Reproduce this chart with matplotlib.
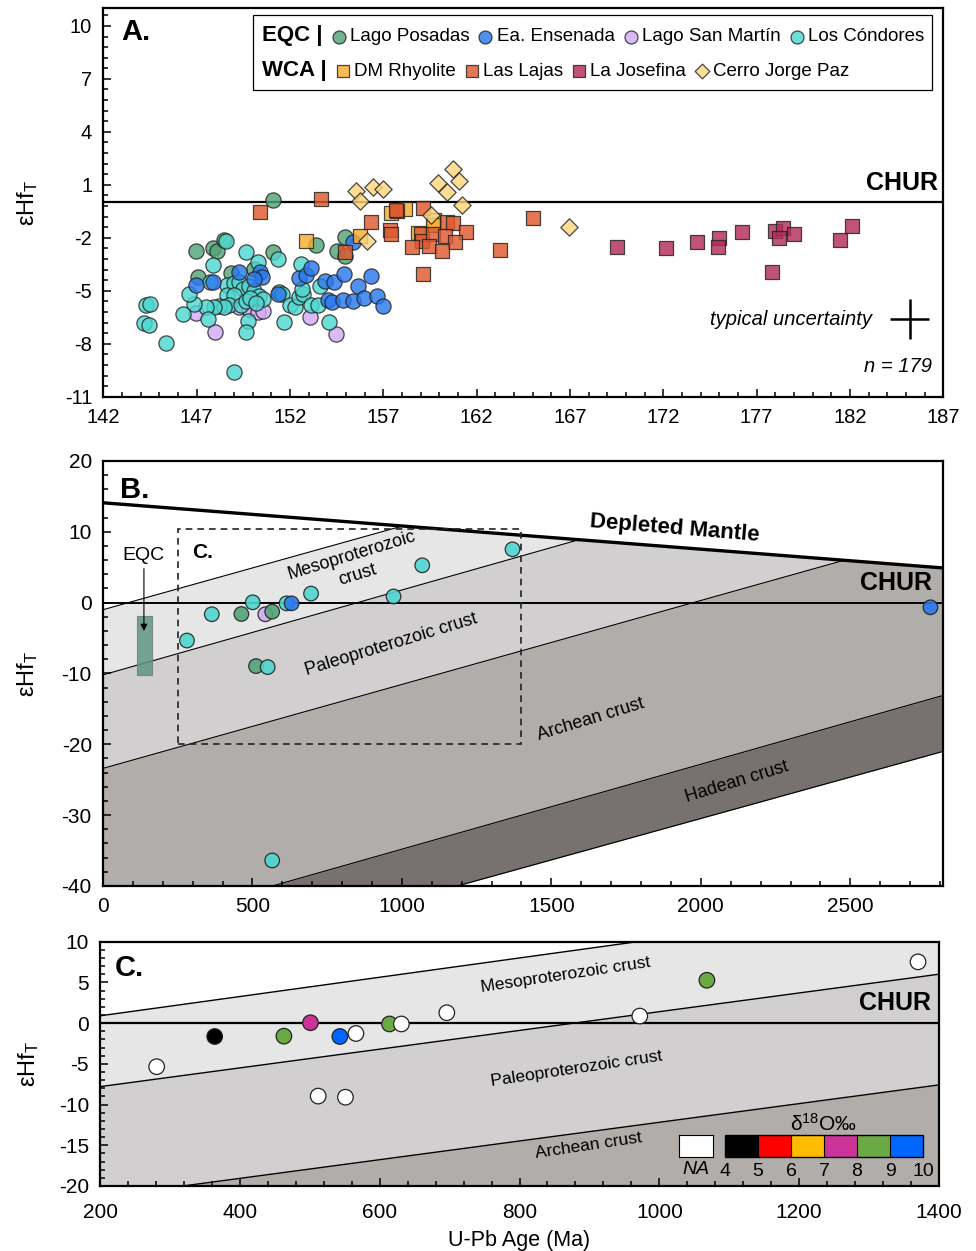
import numpy as np
import matplotlib
matplotlib.use('Agg')
import matplotlib.pyplot as plt
from matplotlib.legend import Legend
from matplotlib.lines import Line2D
from matplotlib.patches import Rectangle
from matplotlib.colors import ListedColormap, BoundaryNorm
from matplotlib.cm import ScalarMappable
from matplotlib.ticker import FixedLocator, MultipleLocator, AutoMinorLocator

plt.rcParams['font.family'] = ['Liberation Sans', 'DejaVu Sans']
plt.rcParams['axes.unicode_minus'] = False
plt.rcParams['mathtext.fontset'] = 'custom'
plt.rcParams['mathtext.rm'] = 'Liberation Sans'
plt.rcParams['mathtext.it'] = 'Liberation Sans:italic'
plt.rcParams['mathtext.bf'] = 'Liberation Sans:bold'

# ---------------- panel A : Jurassic zircons ----------------
lp_age = [151.07, 146.97, 147.86, 148.10, 148.49, 151.08, 150.10, 148.85, 147.10,
          153.38, 154.93, 154.52, 154.96]
lp_ehf = [0.13, -2.77, -2.60, -2.77, -2.11, -2.83, -3.77, -4.02, -4.24,
          -2.40, -1.98, -2.73, -3.02]

ee_age = [146.97, 147.86, 149.26, 150.37, 150.51, 150.05, 151.35, 152.48, 152.87,
          153.14, 153.86, 154.36, 154.88, 156.36, 155.65, 154.05, 154.25, 154.84,
          155.38, 155.95, 156.67, 156.99, 155.38]
ee_ehf = [-4.68, -4.49, -3.96, -3.96, -4.24, -4.36, -5.19, -4.28, -4.08,
          -3.70, -4.43, -4.53, -4.06, -4.15, -4.72, -5.55, -5.65, -5.51,
          -5.57, -5.43, -5.28, -5.85, -2.26]

lsm_age = [146.97, 148.00, 149.29, 149.83, 150.28, 150.55, 153.05, 154.48]
lsm_ehf = [-6.26, -7.32, -5.94, -6.04, -6.19, -6.13, -6.51, -7.45]

lc_age = [148.62, 148.99, 149.29, 149.51, 149.80, 150.06, 150.33, 150.55, 148.62,
          148.99, 148.72, 149.38, 149.65, 149.88, 150.19, 148.22, 148.49, 147.95,
          147.51, 146.88, 146.58, 146.25, 147.60, 149.74, 149.65, 148.99, 145.36,
          144.29, 144.50, 144.20, 144.43, 147.74, 147.86, 149.65, 150.28, 151.35,
          148.58, 151.66, 151.44, 151.58, 151.98, 152.25, 152.48, 152.69, 152.60,
          153.14, 153.50, 153.59, 154.07, 152.66]
lc_ehf = [-4.68, -4.56, -4.49, -4.90, -4.75, -5.02, -5.28, -5.47, -5.22,
          -5.24, -5.81, -5.81, -5.56, -5.43, -5.70, -5.85, -5.94, -5.94,
          -5.90, -5.75, -5.19, -6.32, -6.60, -6.70, -7.32, -9.62, -7.96,
          -5.81, -5.75, -6.83, -6.94, -4.53, -3.55, -2.79, -3.39, -3.21,
          -2.17, -6.79, -5.09, -5.19, -5.81, -5.90, -5.38, -5.19, -3.49,
          -5.81, -5.81, -4.72, -6.79, -4.90]

dmr_age = [152.87, 155.74, 157.43, 158.15, 159.72, 159.67, 158.86]
dmr_ehf = [-2.17, -1.92, -0.62, -0.38, -0.98, -1.30, -1.73]

ll_age = [150.37, 153.68, 156.36, 157.74, 159.13, 157.35, 157.43, 160.44, 160.74,
          161.42, 159.04, 159.10, 159.67, 160.33, 160.83, 158.54, 159.45, 160.12,
          159.13, 163.25, 165.03, 154.96, 157.66]
ll_ehf = [-0.53, 0.17, -1.10, -0.51, -0.32, -1.56, -1.79, -1.09, -1.19,
          -1.66, -1.79, -2.21, -1.79, -1.88, -2.26, -2.51, -2.45, -2.73,
          -4.05, -2.68, -0.90, -2.79, -0.45]

lj_age = [169.54, 172.13, 173.81, 174.99, 174.92, 176.21, 177.96, 178.41, 178.19,
          178.98, 177.82, 181.48, 182.11]
lj_ehf = [-2.51, -2.58, -2.22, -2.04, -2.55, -1.66, -1.60, -1.47, -2.02,
          -1.81, -3.96, -2.13, -1.36]

cjp_age = [155.56, 156.45, 156.99, 155.77, 160.74, 161.05, 159.94, 160.44, 161.23,
           159.58, 166.95, 156.15]
cjp_ehf = [0.66, 0.85, 0.76, 0.10, 1.89, 1.23, 1.13, 0.62, -0.13,
           -0.72, -1.41, -2.21]

# ---------------- inherited zircons (panels B and C) ----------------
inh_age = [281, 364, 463, 501, 543, 566, 614, 631, 696, 972, 1068, 1370, 512, 551]
inh_ehf = [-5.35, -1.64, -1.60, 0.05, -1.64, -1.27, -0.10, -0.10, 1.28, 0.87,
           5.27, 7.53, -8.96, -9.10]
inh_unit = ['LC', 'LC', 'LP', 'LC', 'LSM', 'LP', 'LC', 'EE', 'LC', 'LC',
            'LC', 'LC', 'LP', 'LC']
inh_d18o = [np.nan, 4.5, 8.5, 7.5, 9.5, np.nan, 8.5, np.nan, np.nan, np.nan,
            8.5, np.nan, np.nan, np.nan]
old_age = [566, 2768]
old_ehf = [-36.4, -0.66]
old_unit = ['LC', 'EE']

# evolution lines (age Ma, eHf)
dm_pts = [(0, 14.1), (2810, 4.9)]
b_crust_pts = [[(0, -1.0), (983, 10.6)],        # Mesoproterozoic top
               [(0, -10.2), (1585, 8.8)],       # Paleoproterozoic top
               [(0, -23.4), (2472, 5.9)],       # Archean top
               [(0, -46.8), (2810, -13.1)],     # Hadean top
               [(1262, -39.1), (2810, -21.0)]]  # Hadean base
c_crust_pts = [[(200, 0.9), (968, 10.0)],
               [(200, -7.8), (1399, 6.0)],
               [(319, -20.0), (1399, -7.6)]]
eqc_range = (115, 163, -10.2, -1.9)
zoom_box = (250, 1400, -20.0, 10.4)

colors = {'LP': '#52a476', 'EE': '#2a78ec', 'LSM': '#d3a9f4', 'LC': '#4fd6d0',
          'DMR': '#f8ae2c', 'LL': '#de5a2f', 'LJ': '#b22d5b', 'CJP': '#fdd57c'}
band_cols = ['#e6e6e6', '#d1cfd0', '#b0adab', '#77716f']
d18o_cols = ['#000000', '#ff0000', '#ffbb00', '#cc3399', '#6aaa44', '#0066ff']
d18o_bounds = [4, 5, 6, 7, 8, 9, 10]


def line_through(pts, x):
    (x0, y0), (x1, y1) = pts
    return y0 + (y1 - y0) * (np.asarray(x, float) - x0) / (x1 - x0)


def style(ax, size):
    ax.tick_params(which='both', direction='in', top=False, right=False,
                   labelsize=size, width=1.1, pad=8)
    ax.tick_params(which='major', length=6)
    ax.tick_params(which='minor', length=3.5)
    for s in ax.spines.values():
        s.set_linewidth(1.6)


fig = plt.figure(figsize=(9.76, 12.51), dpi=100)
axA = fig.add_axes([0.1058, 0.6829, 0.8607, 0.3105])
axB = fig.add_axes([0.1055, 0.2918, 0.8607, 0.3397])
axC = fig.add_axes([0.1025, 0.0520, 0.8596, 0.1952])

# ---------------- A ----------------
kw = dict(edgecolor='#222222', linewidths=0.9, alpha=0.82, zorder=3)
sc_lsm = axA.scatter(lsm_age, lsm_ehf, s=120, c=colors['LSM'], marker='o', **kw)
sc_lp = axA.scatter(lp_age, lp_ehf, s=120, c=colors['LP'], marker='o', **kw)
sc_lc = axA.scatter(lc_age, lc_ehf, s=120, c=colors['LC'], marker='o', **kw)
sc_ee = axA.scatter(ee_age, ee_ehf, s=120, c=colors['EE'], marker='o', **kw)
sc_dmr = axA.scatter(dmr_age, dmr_ehf, s=105, c=colors['DMR'], marker='s', **kw)
sc_ll = axA.scatter(ll_age, ll_ehf, s=105, c=colors['LL'], marker='s', **kw)
sc_lj = axA.scatter(lj_age, lj_ehf, s=105, c=colors['LJ'], marker='s', **kw)
sc_cjp = axA.scatter(cjp_age, cjp_ehf, s=78, c=colors['CJP'], marker='D', **kw)
axA.axhline(0, color='k', lw=1.6, zorder=2)
axA.set_xlim(142, 187)
axA.set_ylim(-11, 11)
axA.xaxis.set_major_locator(FixedLocator(np.arange(142, 188, 5)))
axA.xaxis.set_minor_locator(MultipleLocator(1))
axA.yaxis.set_major_locator(FixedLocator(np.arange(-11, 11, 3)))
axA.yaxis.set_minor_locator(AutoMinorLocator(5))
style(axA, 14.5)
axA.text(0.022, 0.975, 'A.', transform=axA.transAxes, fontsize=21,
         fontweight='bold', va='top')
axA.text(186.74, 0.45, 'CHUR', ha='right', va='bottom', fontsize=18, fontweight='bold')
axA.errorbar([185.2], [-6.6], xerr=[1.03], yerr=[1.13], color='k', lw=1.8,
             capsize=0, fmt='none')
axA.text(183.2, -6.6, 'typical uncertainty', ha='right', va='center',
         fontsize=14.5, style='italic')
axA.text(186.4, -9.3, 'n = 179', ha='right', va='center', fontsize=14.5,
         style='italic')

# two-row legend, each row packed on its own, inside one frame
axA.add_patch(Rectangle((0.178, 0.79), 0.809, 0.193, transform=axA.transAxes,
                        facecolor='white', edgecolor='k', lw=0.9, zorder=5))
blank = Line2D([], [], linestyle='none')
rows = [([blank, sc_lp, sc_ee, sc_lsm, sc_lc],
         ['EQC |', 'Lago Posadas', 'Ea. Ensenada', 'Lago San Martín', 'Los Cóndores'],
         0.9287),
        ([blank, sc_dmr, sc_ll, sc_lj, sc_cjp],
         ['WCA |', 'DM Rhyolite', 'Las Lajas', 'La Josefina', 'Cerro Jorge Paz'],
         0.841)]
for hs, ls, yrow in rows:
    lg = Legend(axA, hs, ls, ncol=5, loc='center left', bbox_to_anchor=(0.168, yrow),
                frameon=False, handlelength=0.7, handletextpad=0.25,
                columnspacing=0.5, borderpad=0, borderaxespad=0,
                markerscale=0.85, prop=dict(size=13.5))
    t0 = lg.get_texts()[0]
    t0.set_fontweight('bold')
    t0.set_fontsize(16)
    lg.set_zorder(6)
    axA.add_artist(lg)

# ---------------- B ----------------
t = np.linspace(0, 2810, 900)
dm = line_through(dm_pts, t)
bounds = [line_through(p, t) for p in b_crust_pts]
for upper, lower, col in zip(bounds[:-1], bounds[1:], band_cols):
    axB.fill_between(t, np.minimum(upper, dm), np.minimum(lower, dm),
                     color=col, lw=0, zorder=0)
for b in bounds:
    axB.plot(t, np.where(b <= dm, b, np.nan), color='k', lw=0.8, zorder=1)
axB.plot(t, dm, color='k', lw=2.4, zorder=2)
axB.axhline(0, color='k', lw=1.4, zorder=2)
x0, x1, y0, y1 = eqc_range
axB.fill_between([x0, x1], y0, y1, color='#5f9584', alpha=0.85, lw=0.8,
                 edgecolor='#6f7f7a', zorder=2)
axB.annotate('', xy=(137, -4.4), xytext=(137, 5.2),
             arrowprops=dict(arrowstyle='-|>', color='k', lw=0.8,
                             mutation_scale=10), zorder=3)
axB.text(137, 6.7, 'EQC', ha='center', va='center', fontsize=14)
bx0, bx1, by0, by1 = zoom_box
axB.add_patch(Rectangle((bx0, by0), bx1 - bx0, by1 - by0, fill=False,
                        linestyle=(0, (4, 3)), lw=1.2, edgecolor='#222222', zorder=2))
axB.text(297, 7.1, 'C.', ha='left', va='center', fontsize=15, fontweight='bold')
kwb = dict(s=110, edgecolor='#222222', linewidths=0.9, alpha=0.9, zorder=4)
axB.scatter(inh_age, inh_ehf, c=[colors[u] for u in inh_unit], **kwb)
axB.scatter(old_age, old_ehf, c=[colors[u] for u in old_unit], **kwb)
axB.set_xlim(0, 2810)
axB.set_ylim(-40, 20)
axB.xaxis.set_major_locator(MultipleLocator(500))
axB.xaxis.set_minor_locator(MultipleLocator(100))
axB.yaxis.set_major_locator(MultipleLocator(10))
axB.yaxis.set_minor_locator(MultipleLocator(2))
style(axB, 15)
axB.text(0.02, 0.965, 'B.', transform=axB.transAxes, fontsize=21,
         fontweight='bold', va='top')
axB.text(1913, 10.4, 'Depleted Mantle', ha='center', va='center', fontsize=16,
         fontweight='bold', rotation=-4.7)
axB.text(2773, 1.1, 'CHUR', ha='right', va='bottom', fontsize=18, fontweight='bold')
axB.text(843, 5.3, 'Mesoproterozoic\ncrust', ha='center', va='center',
         fontsize=13, rotation=17, linespacing=1.25)
axB.text(963, -5.9, 'Paleoproterozoic crust', ha='center', va='center',
         fontsize=13, rotation=17)
axB.text(1633, -16.5, 'Archean crust', ha='center', va='center',
         fontsize=13, rotation=17)
axB.text(2121, -25.3, 'Hadean crust', ha='center', va='center',
         fontsize=13, rotation=17)

# ---------------- C ----------------
tc = np.linspace(200, 1400, 400)
cb = [line_through(p, tc) for p in c_crust_pts] + [np.full_like(tc, -30.0)]
for upper, lower, col in zip(cb[:-1], cb[1:], band_cols[:3]):
    axC.fill_between(tc, upper, lower, color=col, lw=0, zorder=0)
for b in cb[:-1]:
    axC.plot(tc, b, color='k', lw=1.0, zorder=1)
axC.axhline(0, color='k', lw=1.6, zorder=2)
cmap = ListedColormap(d18o_cols)
norm = BoundaryNorm(d18o_bounds, cmap.N)
d18o = np.array(inh_d18o)
face = [cmap(norm(v)) if np.isfinite(v) else 'white' for v in d18o]
axC.scatter(inh_age, inh_ehf, s=125, c=face, edgecolor='#222222',
            linewidths=0.9, zorder=4)
axC.set_xlim(200, 1400)
axC.set_ylim(-20, 10)
axC.xaxis.set_major_locator(MultipleLocator(200))
axC.xaxis.set_minor_locator(MultipleLocator(40))
axC.yaxis.set_major_locator(MultipleLocator(5))
axC.yaxis.set_minor_locator(MultipleLocator(1))
style(axC, 15)
axC.tick_params(axis='x', pad=12)
axC.set_xlabel('U-Pb Age (Ma)', fontsize=15.5, labelpad=6)
axC.text(0.018, 0.95, 'C.', transform=axC.transAxes, fontsize=21,
         fontweight='bold', va='top')
axC.text(1388, 0.95, 'CHUR', ha='right', va='bottom', fontsize=18, fontweight='bold')
axC.text(866, 5.9, 'Mesoproterozoic crust', ha='center', va='center',
         fontsize=12.5, rotation=8.5)
axC.text(881, -5.6, 'Paleoproterozoic crust', ha='center', va='center',
         fontsize=12.5, rotation=8.5)
axC.text(899, -15.1, 'Archean crust', ha='center', va='center',
         fontsize=12.5, rotation=8.5)

# d18O key
cax = fig.add_axes([725 / 976, 1 - 1157 / 1251, 198 / 976, 22 / 1251])
cbar = fig.colorbar(ScalarMappable(norm=norm, cmap=cmap), cax=cax,
                    orientation='horizontal', ticks=d18o_bounds, drawedges=True)
cbar.outline.set_linewidth(1.0)
cbar.dividers.set_linewidth(0.8)
cax.tick_params(length=0, labelsize=14, pad=4)
cax.set_title(r'δ$^{18}$O‰', fontsize=15, pad=3)
nax = fig.add_axes([679 / 976, 1 - 1157 / 1251, 34 / 976, 22 / 1251])
nax.set_xticks([])
nax.set_yticks([])
nax.set_facecolor('white')
nax.set_xlabel('NA', fontsize=14, style='italic', labelpad=3)

for ax, xl in ((axA, -0.075), (axB, -0.075), (axC, -0.07)):
    ax.set_ylabel(r'εHf$_{\rm T}$', fontsize=17)
    ax.yaxis.set_label_coords(xl, 0.5)

fig.savefig('out.png', dpi=100)
